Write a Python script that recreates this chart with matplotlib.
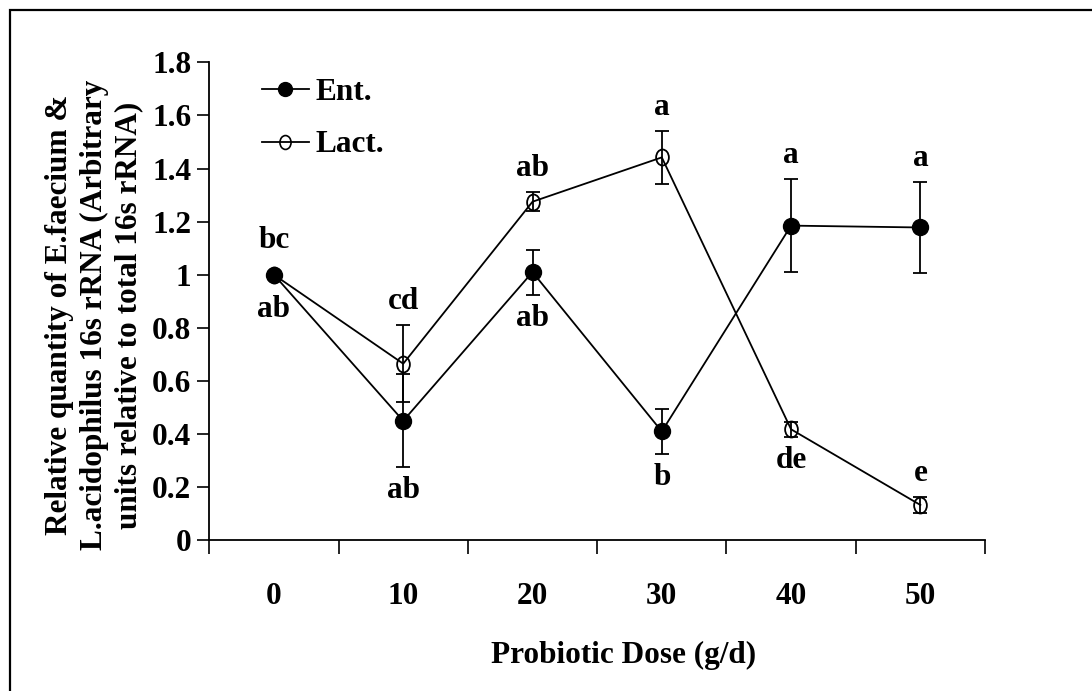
import numpy as np
import matplotlib
matplotlib.use('Agg')
import matplotlib.pyplot as plt
from matplotlib.patches import Rectangle
from matplotlib.path import Path
from matplotlib.lines import Line2D

# probiotic doses (g/d) and group means +/- error
doses = ['0', '10', '20', '30', '40', '50']
ent = [1.0, 0.45, 1.01, 0.41, 1.185, 1.178]
ent_err = [0.0, 0.175, 0.085, 0.085, 0.175, 0.172]
lact = [1.0, 0.665, 1.275, 1.442, 0.418, 0.133]
lact_err = [0.0, 0.145, 0.035, 0.10, 0.028, 0.03]

# significance letters, and whether they sit above or below the point
ent_letters = ['ab', 'ab', 'ab', 'b', 'a', 'a']
ent_side = ['below', 'below', 'below', 'below', 'above', 'above']
lact_letters = ['bc', 'cd', 'ab', 'a', 'de', 'e']
lact_side = ['above', 'above', 'above', 'above', 'below', 'above']

plt.rcParams['font.family'] = ['Liberation Serif', 'DejaVu Serif']
plt.rcParams['font.weight'] = 'bold'
FS = 22.5

W, H = 1092, 691
fig = plt.figure(figsize=(W / 100, H / 100), dpi=100)
ax = fig.add_axes([209.3 / W, (H - 540.3) / H, 775.7 / W, 478 / H])

x = np.arange(len(doses))

circ = Path.unit_circle()
oval = Path(circ.vertices * np.array([0.8, 1.0]), circ.codes)

ax.errorbar(x, lact, yerr=lact_err, fmt='-', marker=oval, color='black',
            mfc='none', mec='black', mew=1.3, ms=11.5, lw=1.3,
            elinewidth=1.3, capsize=5, capthick=1.3)
ax.errorbar(x, ent, yerr=ent_err, fmt='-o', color='black', mfc='black',
            ms=11.5, lw=1.3, elinewidth=1.3, capsize=5, capthick=1.3)

####################### letters
for vals, errs, letters, sides in [(ent, ent_err, ent_letters, ent_side),
                                   (lact, lact_err, lact_letters, lact_side)]:
    for i in range(len(vals)):
        sgn = 1 if sides[i] == 'above' else -1
        off = 17 if errs[i] > 0 else 25
        ax.annotate(letters[i], (x[i], vals[i] + sgn * errs[i]),
                    xytext=(0, sgn * off), textcoords='offset points',
                    ha='center', va='center', fontsize=FS, fontweight='bold')

####################### axes
ax.set_xlim(-0.5, 5.5)
ax.set_xticks(x)
ax.set_xticklabels(doses)
ax.set_xticks(np.arange(-0.5, 6, 1), minor=True)
ax.tick_params(axis='x', which='major', length=0, pad=30, labelsize=FS)
ax.tick_params(axis='x', which='minor', length=10, width=1.2, direction='out')

yt = np.arange(0, 1.81, 0.2)
ax.set_ylim(0, 1.8)
ax.set_yticks(yt)
ax.set_yticklabels(['%g' % round(v, 1) for v in yt])
ax.tick_params(axis='y', length=9, width=1.2, pad=4, labelsize=FS)

for s in ['top', 'right']:
    ax.spines[s].set_visible(False)
for s in ['left', 'bottom']:
    ax.spines[s].set_linewidth(1.3)

handles = [Line2D([], [], color='black', lw=1.3, marker='o', mfc='black', ms=10),
           Line2D([], [], color='black', lw=1.3, marker=oval, mfc='none',
                  mec='black', mew=1.2, ms=10)]
ax.legend(handles, ['Ent.', 'Lact.'], loc='upper left', frameon=False, fontsize=FS,
          bbox_to_anchor=(262 / W, 1 - 78 / H), bbox_transform=fig.transFigure,
          borderpad=0, borderaxespad=0, handlelength=1.5, handletextpad=0.2,
          labelspacing=0.75)

fig.text(624 / W, 1 - 655 / H, 'Probiotic Dose (g/d)', ha='center', va='center',
         fontsize=FS, fontweight='bold')
fig.text(94 / W, 1 - 315 / H,
         'Relative quantity of E.faecium &\nL.acidophilus 16s rRNA (Arbitrary\nunits relative to total 16s rRNA)',
         rotation=90, ha='center', va='center', multialignment='center',
         fontsize=FS, fontweight='bold', linespacing=1.25)

# outer frame
fig.patches.append(Rectangle((9.5 / W, -0.1), 1.2, 1 - 10 / H + 0.1, fill=False,
                             lw=1.6, edgecolor='black', transform=fig.transFigure))

fig.savefig('out.png', dpi=100)
